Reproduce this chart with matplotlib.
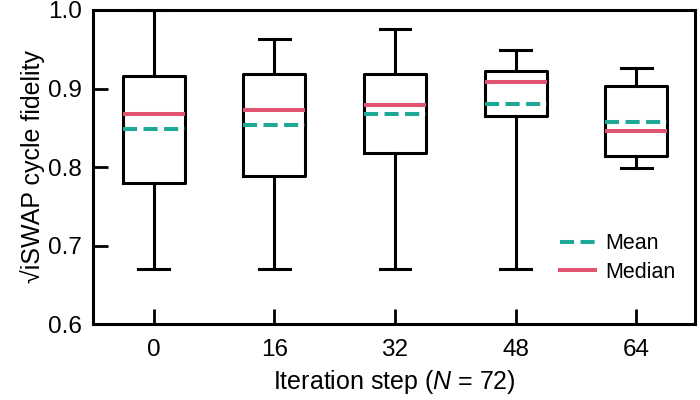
import matplotlib
matplotlib.use("Agg")
import matplotlib.pyplot as plt
from matplotlib.lines import Line2D

plt.rcParams['font.family'] = ['Liberation Sans', 'DejaVu Sans']
plt.rcParams['mathtext.fontset'] = 'custom'
plt.rcParams['mathtext.it'] = 'Liberation Sans:italic'
plt.rcParams['mathtext.rm'] = 'Liberation Sans'

steps = [0, 16, 32, 48, 64]
whislo = [0.670, 0.670, 0.670, 0.670, 0.799]
q1 = [0.780, 0.789, 0.818, 0.865, 0.814]
med = [0.867, 0.873, 0.879, 0.908, 0.846]
mean = [0.848, 0.853, 0.867, 0.880, 0.857]
q3 = [0.916, 0.919, 0.918, 0.922, 0.903]
whishi = [1.000, 0.963, 0.976, 0.949, 0.926]

teal = '#1ea898'
red = '#e05472'
dash = (0, (3.5, 1.6))

stats = []
for i in range(len(steps)):
    stats.append(dict(whislo=whislo[i], q1=q1[i], med=med[i], mean=mean[i],
                      q3=q3[i], whishi=whishi[i], fliers=[]))

fig = plt.figure(figsize=(7, 4), dpi=100)
ax = fig.add_axes([0.1324, 0.19, 0.8606, 0.785])

lw = 2.2
ax.bxp(stats, positions=steps, widths=8.2, showmeans=True, meanline=True,
       showfliers=False,
       boxprops=dict(color='black', linewidth=lw),
       whiskerprops=dict(color='black', linewidth=lw),
       capprops=dict(color='black', linewidth=lw),
       medianprops=dict(color=red, linewidth=2.9),
       meanprops=dict(color=teal, linewidth=2.9, linestyle=dash),
       capwidths=4.1)

ax.set_xlim(-8.1, 71.8)
ax.set_ylim(0.6, 1.0)
ax.set_xticks(steps)
ax.set_xticklabels([str(s) for s in steps])
ax.set_yticks([0.6, 0.7, 0.8, 0.9, 1.0])
ax.set_yticklabels(['0.6', '0.7', '0.8', '0.9', '1.0'])
ax.tick_params(direction='in', length=11, width=2, labelsize=17.5)
ax.tick_params(axis='x', pad=11)
ax.tick_params(axis='y', pad=8)
for sp in ax.spines.values():
    sp.set_linewidth(2.2)

ax.set_ylabel('√iSWAP cycle fidelity', fontsize=18, labelpad=2)
ax.set_xlabel('Iteration step ($N$ = 72)', fontsize=18, labelpad=5)

handles = [Line2D([], [], color=teal, linewidth=2.9, linestyle=dash),
           Line2D([], [], color=red, linewidth=2.9)]
ax.legend(handles, ['Mean', 'Median'], loc='lower right', frameon=False,
          fontsize=15.5, handlelength=1.6, bbox_to_anchor=(1.0, 0.07),
          handletextpad=0.5, labelspacing=0.35)

fig.savefig('out.png', dpi=100)
